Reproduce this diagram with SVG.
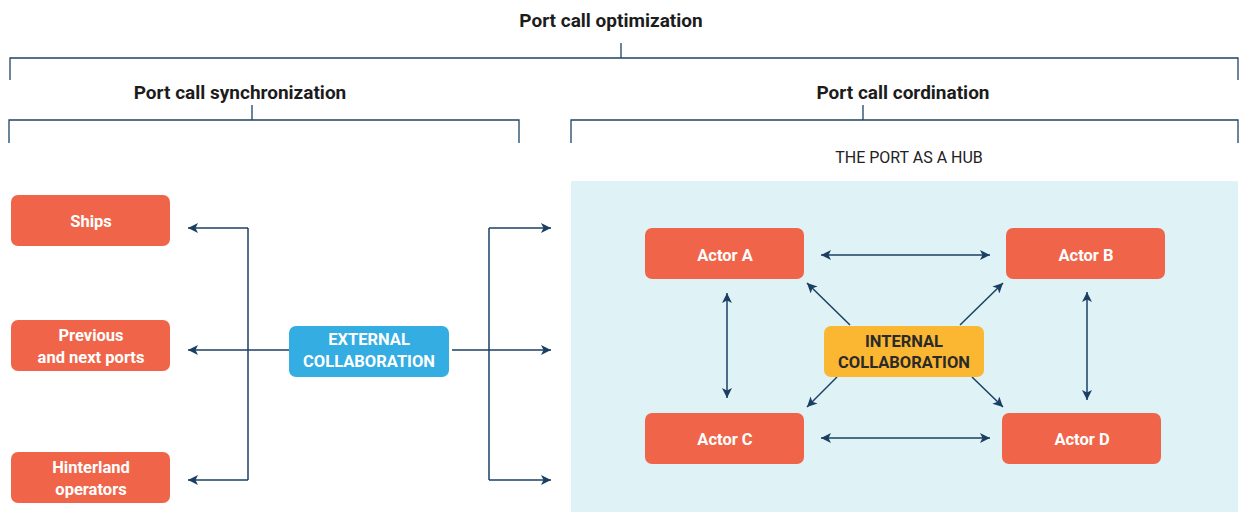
<svg xmlns="http://www.w3.org/2000/svg" width="1243" height="512" viewBox="0 0 1243 512">
<defs>
<style>
.br{fill:none;stroke:#1f4466;stroke-width:1.3}
.ln{fill:none;stroke:#1b3f63;stroke-width:1.5}
.ar{marker-end:url(#ah)}
.ar2{marker-start:url(#ahs);marker-end:url(#ah)}
.org{fill:#f06549}
.blu{fill:#33ade2}
.yel{fill:#fbb731}
.h{font-family:Roboto,"Liberation Sans",sans-serif;font-weight:bold;font-size:19px;fill:#1c1c1c;text-anchor:middle}
.t{font-family:Roboto,"Liberation Sans",sans-serif;font-weight:bold;font-size:16.5px;fill:#ffffff;text-anchor:middle}
.td{font-family:Roboto,"Liberation Sans",sans-serif;font-weight:bold;font-size:16.5px;fill:#2a2a2a;text-anchor:middle}
.s{font-family:Roboto,"Liberation Sans",sans-serif;font-size:16px;fill:#222;text-anchor:middle}
</style>
<marker id="ah" viewBox="0 0 10 10" refX="10" refY="5" markerWidth="11" markerHeight="10" markerUnits="userSpaceOnUse" orient="auto">
<path d="M0,0 L10,5 L0,10 L2.5,5 Z" fill="#1b3f63"/>
</marker>
<marker id="ahs" viewBox="0 0 10 10" refX="0" refY="5" markerWidth="11" markerHeight="10" markerUnits="userSpaceOnUse" orient="auto">
<path d="M10,0 L0,5 L10,10 L7.5,5 Z" fill="#1b3f63"/>
</marker>
</defs>
<rect width="1243" height="512" fill="#ffffff"/>

<g id="headers">
<text class="h" x="611" y="27">Port call optimization</text>
<path class="br" d="M10,80 V58 H1238 V80 M621,43 V58"/>
<text class="h" x="240" y="99">Port call synchronization</text>
<path class="br" d="M9,143 V120 H519 V143 M252,105 V120"/>
<text class="h" x="903" y="99">Port call cordination</text>
<path class="br" d="M571,143 V120 H1238 V143 M863,105 V120"/>
<text class="s" x="909" y="163">THE PORT AS A HUB</text>
</g>

<g id="hub-panel"><rect x="571" y="181" width="667" height="331" fill="#dff2f5"/></g>

<g id="connectors">
<path class="ln" d="M248,228 V480"/>
<path class="ln ar" d="M248,228 H188"/>
<path class="ln ar" d="M289,350 H188"/>
<path class="ln ar" d="M248,480 H188"/>
<path class="ln" d="M489,228 V480"/>
<path class="ln ar" d="M452,350 H551"/>
<path class="ln ar" d="M489,228 H551"/>
<path class="ln ar" d="M489,480 H551"/>
<path class="ln ar2" d="M821,255 H990"/>
<path class="ln ar2" d="M821,438 H990"/>
<path class="ln ar2" d="M727,293 V398"/>
<path class="ln ar2" d="M1087,292 V400"/>
<path class="ln ar" d="M850,325 L807,283"/>
<path class="ln ar" d="M960,325 L1003,283"/>
<path class="ln ar" d="M837,377 L807,407"/>
<path class="ln ar" d="M972,377 L1003,407"/>
</g>

<g id="ships"><rect class="org" x="11" y="195" width="159" height="51" rx="7"/><text class="t" x="91" y="227">Ships</text></g>
<g id="ports"><rect class="org" x="11" y="320" width="159" height="51" rx="7"/><text class="t" x="91" y="341">Previous</text><text class="t" x="91" y="363">and next ports</text></g>
<g id="hinterland"><rect class="org" x="11" y="452" width="159" height="51" rx="7"/><text class="t" x="91" y="473">Hinterland</text><text class="t" x="91" y="495">operators</text></g>
<g id="external"><rect class="blu" x="289" y="326" width="160" height="51" rx="7"/><text class="t" x="369" y="345">EXTERNAL</text><text class="t" x="369" y="367">COLLABORATION</text></g>

<g id="actor-a"><rect class="org" x="645" y="228" width="159" height="51" rx="7"/><text class="t" x="725" y="261">Actor A</text></g>
<g id="actor-b"><rect class="org" x="1006" y="228" width="159" height="51" rx="7"/><text class="t" x="1086" y="261">Actor B</text></g>
<g id="actor-c"><rect class="org" x="645" y="413" width="159" height="51" rx="7"/><text class="t" x="725" y="445">Actor C</text></g>
<g id="actor-d"><rect class="org" x="1002" y="413" width="159" height="51" rx="7"/><text class="t" x="1082" y="445">Actor D</text></g>
<g id="internal"><rect class="yel" x="824" y="326" width="160" height="51" rx="7"/><text class="td" x="904" y="347">INTERNAL</text><text class="td" x="904" y="368">COLLABORATION</text></g>
</svg>
